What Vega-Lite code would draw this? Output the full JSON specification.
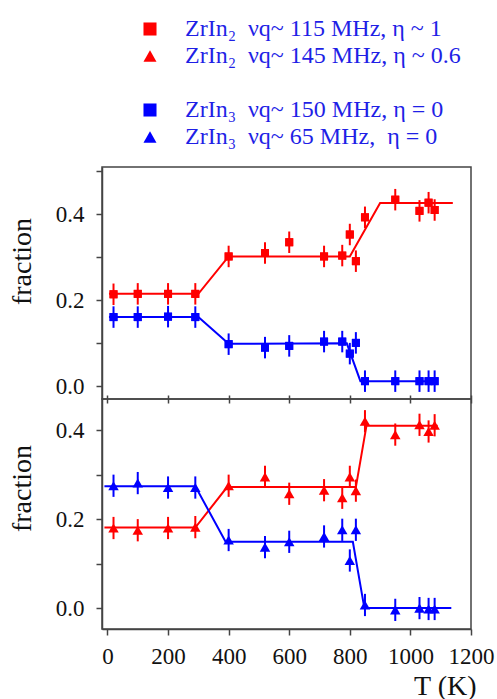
{
  "$schema": "https://vega.github.io/schema/vega-lite/v6.json",
  "background": "white",
  "padding": {"left": 7, "top": 17, "right": 5, "bottom": 2},
  "spacing": 0,
  "bounds": "flush",
  "config": {
    "font": "Liberation Serif",
    "view": {"stroke": "#444", "strokeWidth": 1.5},
    "axis": {"grid": false, "labelFont": "Liberation Serif", "titleFont": "Liberation Serif", "labelFontSize": 23, "titleFontSize": 28, "titleFontWeight": "normal", "labelColor": "#111", "titleColor": "#111", "domainColor": "#444", "tickColor": "#444", "domainWidth": 1.5, "tickWidth": 1.5, "labelOverlap": false, "labelFlush": false},
    "legend": {"labelFont": "Liberation Serif", "labelFontSize": 24, "labelColor": "#1f1fe6", "symbolSize": 170, "labelOffset": 23, "rowPadding": 3, "labelLimit": 400, "symbolStrokeWidth": 0}
  },
  "datasets": {
    "topPts": [
      {"series": "ZrIn₂\u00a0 νq~ 115 MHz, η ~ 1", "T": 20, "f": 0.214, "err": 0.025},
      {"series": "ZrIn₂\u00a0 νq~ 115 MHz, η ~ 1", "T": 100, "f": 0.215, "err": 0.025},
      {"series": "ZrIn₂\u00a0 νq~ 115 MHz, η ~ 1", "T": 200, "f": 0.215, "err": 0.025},
      {"series": "ZrIn₂\u00a0 νq~ 115 MHz, η ~ 1", "T": 290, "f": 0.215, "err": 0.025},
      {"series": "ZrIn₂\u00a0 νq~ 115 MHz, η ~ 1", "T": 400, "f": 0.302, "err": 0.025},
      {"series": "ZrIn₂\u00a0 νq~ 115 MHz, η ~ 1", "T": 520, "f": 0.310, "err": 0.025},
      {"series": "ZrIn₂\u00a0 νq~ 115 MHz, η ~ 1", "T": 600, "f": 0.335, "err": 0.025},
      {"series": "ZrIn₂\u00a0 νq~ 115 MHz, η ~ 1", "T": 715, "f": 0.302, "err": 0.025},
      {"series": "ZrIn₂\u00a0 νq~ 115 MHz, η ~ 1", "T": 775, "f": 0.304, "err": 0.025},
      {"series": "ZrIn₂\u00a0 νq~ 115 MHz, η ~ 1", "T": 800, "f": 0.353, "err": 0.025},
      {"series": "ZrIn₂\u00a0 νq~ 115 MHz, η ~ 1", "T": 820, "f": 0.291, "err": 0.025},
      {"series": "ZrIn₂\u00a0 νq~ 115 MHz, η ~ 1", "T": 850, "f": 0.393, "err": 0.025},
      {"series": "ZrIn₂\u00a0 νq~ 115 MHz, η ~ 1", "T": 950, "f": 0.434, "err": 0.025},
      {"series": "ZrIn₂\u00a0 νq~ 115 MHz, η ~ 1", "T": 1030, "f": 0.408, "err": 0.025},
      {"series": "ZrIn₂\u00a0 νq~ 115 MHz, η ~ 1", "T": 1060, "f": 0.427, "err": 0.025},
      {"series": "ZrIn₂\u00a0 νq~ 115 MHz, η ~ 1", "T": 1080, "f": 0.410, "err": 0.025},
      {"series": "ZrIn₃\u00a0 νq~ 150 MHz, η = 0", "T": 20, "f": 0.161, "err": 0.025},
      {"series": "ZrIn₃\u00a0 νq~ 150 MHz, η = 0", "T": 100, "f": 0.161, "err": 0.025},
      {"series": "ZrIn₃\u00a0 νq~ 150 MHz, η = 0", "T": 200, "f": 0.162, "err": 0.025},
      {"series": "ZrIn₃\u00a0 νq~ 150 MHz, η = 0", "T": 290, "f": 0.161, "err": 0.025},
      {"series": "ZrIn₃\u00a0 νq~ 150 MHz, η = 0", "T": 400, "f": 0.098, "err": 0.025},
      {"series": "ZrIn₃\u00a0 νq~ 150 MHz, η = 0", "T": 520, "f": 0.090, "err": 0.025},
      {"series": "ZrIn₃\u00a0 νq~ 150 MHz, η = 0", "T": 600, "f": 0.094, "err": 0.025},
      {"series": "ZrIn₃\u00a0 νq~ 150 MHz, η = 0", "T": 715, "f": 0.104, "err": 0.025},
      {"series": "ZrIn₃\u00a0 νq~ 150 MHz, η = 0", "T": 775, "f": 0.104, "err": 0.025},
      {"series": "ZrIn₃\u00a0 νq~ 150 MHz, η = 0", "T": 800, "f": 0.076, "err": 0.025},
      {"series": "ZrIn₃\u00a0 νq~ 150 MHz, η = 0", "T": 820, "f": 0.101, "err": 0.025},
      {"series": "ZrIn₃\u00a0 νq~ 150 MHz, η = 0", "T": 850, "f": 0.012, "err": 0.025},
      {"series": "ZrIn₃\u00a0 νq~ 150 MHz, η = 0", "T": 950, "f": 0.012, "err": 0.025},
      {"series": "ZrIn₃\u00a0 νq~ 150 MHz, η = 0", "T": 1030, "f": 0.012, "err": 0.025},
      {"series": "ZrIn₃\u00a0 νq~ 150 MHz, η = 0", "T": 1060, "f": 0.012, "err": 0.025},
      {"series": "ZrIn₃\u00a0 νq~ 150 MHz, η = 0", "T": 1080, "f": 0.012, "err": 0.025}
    ],
    "botPts": [
      {"series": "ZrIn₂\u00a0 νq~ 145 MHz, η ~ 0.6", "T": 20, "f": 0.180, "err": 0.025},
      {"series": "ZrIn₂\u00a0 νq~ 145 MHz, η ~ 0.6", "T": 100, "f": 0.175, "err": 0.025},
      {"series": "ZrIn₂\u00a0 νq~ 145 MHz, η ~ 0.6", "T": 200, "f": 0.180, "err": 0.025},
      {"series": "ZrIn₂\u00a0 νq~ 145 MHz, η ~ 0.6", "T": 290, "f": 0.182, "err": 0.025},
      {"series": "ZrIn₂\u00a0 νq~ 145 MHz, η ~ 0.6", "T": 400, "f": 0.275, "err": 0.025},
      {"series": "ZrIn₂\u00a0 νq~ 145 MHz, η ~ 0.6", "T": 520, "f": 0.295, "err": 0.025},
      {"series": "ZrIn₂\u00a0 νq~ 145 MHz, η ~ 0.6", "T": 600, "f": 0.257, "err": 0.025},
      {"series": "ZrIn₂\u00a0 νq~ 145 MHz, η ~ 0.6", "T": 715, "f": 0.265, "err": 0.025},
      {"series": "ZrIn₂\u00a0 νq~ 145 MHz, η ~ 0.6", "T": 775, "f": 0.248, "err": 0.025},
      {"series": "ZrIn₂\u00a0 νq~ 145 MHz, η ~ 0.6", "T": 800, "f": 0.295, "err": 0.025},
      {"series": "ZrIn₂\u00a0 νq~ 145 MHz, η ~ 0.6", "T": 820, "f": 0.264, "err": 0.025},
      {"series": "ZrIn₂\u00a0 νq~ 145 MHz, η ~ 0.6", "T": 850, "f": 0.420, "err": 0.025},
      {"series": "ZrIn₂\u00a0 νq~ 145 MHz, η ~ 0.6", "T": 950, "f": 0.390, "err": 0.025},
      {"series": "ZrIn₂\u00a0 νq~ 145 MHz, η ~ 0.6", "T": 1030, "f": 0.412, "err": 0.025},
      {"series": "ZrIn₂\u00a0 νq~ 145 MHz, η ~ 0.6", "T": 1060, "f": 0.397, "err": 0.025},
      {"series": "ZrIn₂\u00a0 νq~ 145 MHz, η ~ 0.6", "T": 1080, "f": 0.411, "err": 0.025},
      {"series": "ZrIn₃\u00a0 νq~ 65 MHz,\u00a0 η = 0", "T": 20, "f": 0.275, "err": 0.025},
      {"series": "ZrIn₃\u00a0 νq~ 65 MHz,\u00a0 η = 0", "T": 100, "f": 0.281, "err": 0.025},
      {"series": "ZrIn₃\u00a0 νq~ 65 MHz,\u00a0 η = 0", "T": 200, "f": 0.271, "err": 0.025},
      {"series": "ZrIn₃\u00a0 νq~ 65 MHz,\u00a0 η = 0", "T": 290, "f": 0.271, "err": 0.025},
      {"series": "ZrIn₃\u00a0 νq~ 65 MHz,\u00a0 η = 0", "T": 400, "f": 0.153, "err": 0.025},
      {"series": "ZrIn₃\u00a0 νq~ 65 MHz,\u00a0 η = 0", "T": 520, "f": 0.137, "err": 0.025},
      {"series": "ZrIn₃\u00a0 νq~ 65 MHz,\u00a0 η = 0", "T": 600, "f": 0.149, "err": 0.025},
      {"series": "ZrIn₃\u00a0 νq~ 65 MHz,\u00a0 η = 0", "T": 715, "f": 0.161, "err": 0.025},
      {"series": "ZrIn₃\u00a0 νq~ 65 MHz,\u00a0 η = 0", "T": 775, "f": 0.176, "err": 0.025},
      {"series": "ZrIn₃\u00a0 νq~ 65 MHz,\u00a0 η = 0", "T": 800, "f": 0.107, "err": 0.025},
      {"series": "ZrIn₃\u00a0 νq~ 65 MHz,\u00a0 η = 0", "T": 820, "f": 0.176, "err": 0.025},
      {"series": "ZrIn₃\u00a0 νq~ 65 MHz,\u00a0 η = 0", "T": 850, "f": 0.007, "err": 0.025},
      {"series": "ZrIn₃\u00a0 νq~ 65 MHz,\u00a0 η = 0", "T": 950, "f": -0.004, "err": 0.025},
      {"series": "ZrIn₃\u00a0 νq~ 65 MHz,\u00a0 η = 0", "T": 1030, "f": 0.000, "err": 0.025},
      {"series": "ZrIn₃\u00a0 νq~ 65 MHz,\u00a0 η = 0", "T": 1060, "f": -0.002, "err": 0.025},
      {"series": "ZrIn₃\u00a0 νq~ 65 MHz,\u00a0 η = 0", "T": 1080, "f": -0.002, "err": 0.025}
    ],
    "topFit": [
      {"series": "ZrIn₂\u00a0 νq~ 115 MHz, η ~ 1", "T": 5, "f": 0.215},
      {"series": "ZrIn₂\u00a0 νq~ 115 MHz, η ~ 1", "T": 300, "f": 0.215},
      {"series": "ZrIn₂\u00a0 νq~ 115 MHz, η ~ 1", "T": 400, "f": 0.302},
      {"series": "ZrIn₂\u00a0 νq~ 115 MHz, η ~ 1", "T": 800, "f": 0.302},
      {"series": "ZrIn₂\u00a0 νq~ 115 MHz, η ~ 1", "T": 900, "f": 0.426},
      {"series": "ZrIn₂\u00a0 νq~ 115 MHz, η ~ 1", "T": 1140, "f": 0.426},
      {"series": "ZrIn₃\u00a0 νq~ 150 MHz, η = 0", "T": 5, "f": 0.161},
      {"series": "ZrIn₃\u00a0 νq~ 150 MHz, η = 0", "T": 300, "f": 0.161},
      {"series": "ZrIn₃\u00a0 νq~ 150 MHz, η = 0", "T": 400, "f": 0.099},
      {"series": "ZrIn₃\u00a0 νq~ 150 MHz, η = 0", "T": 790, "f": 0.100},
      {"series": "ZrIn₃\u00a0 νq~ 150 MHz, η = 0", "T": 835, "f": 0.012},
      {"series": "ZrIn₃\u00a0 νq~ 150 MHz, η = 0", "T": 1085, "f": 0.012}
    ],
    "botFit": [
      {"series": "ZrIn₂\u00a0 νq~ 145 MHz, η ~ 0.6", "T": -10, "f": 0.181},
      {"series": "ZrIn₂\u00a0 νq~ 145 MHz, η ~ 0.6", "T": 290, "f": 0.181},
      {"series": "ZrIn₂\u00a0 νq~ 145 MHz, η ~ 0.6", "T": 395, "f": 0.272},
      {"series": "ZrIn₂\u00a0 νq~ 145 MHz, η ~ 0.6", "T": 820, "f": 0.272},
      {"series": "ZrIn₂\u00a0 νq~ 145 MHz, η ~ 0.6", "T": 855, "f": 0.410},
      {"series": "ZrIn₂\u00a0 νq~ 145 MHz, η ~ 0.6", "T": 1090, "f": 0.410},
      {"series": "ZrIn₃\u00a0 νq~ 65 MHz,\u00a0 η = 0", "T": -10, "f": 0.274},
      {"series": "ZrIn₃\u00a0 νq~ 65 MHz,\u00a0 η = 0", "T": 290, "f": 0.274},
      {"series": "ZrIn₃\u00a0 νq~ 65 MHz,\u00a0 η = 0", "T": 390, "f": 0.149},
      {"series": "ZrIn₃\u00a0 νq~ 65 MHz,\u00a0 η = 0", "T": 810, "f": 0.149},
      {"series": "ZrIn₃\u00a0 νq~ 65 MHz,\u00a0 η = 0", "T": 848, "f": 0.000},
      {"series": "ZrIn₃\u00a0 νq~ 65 MHz,\u00a0 η = 0", "T": 1135, "f": 0.000}
    ]
  },
  "vconcat": [
    {
      "width": 369,
      "height": 232,
      "layer": [
        {
          "data": {"name": "topPts"},
          "mark": {"type": "point", "filled": true, "opacity": 1, "size": 64},
          "encoding": {
            "x": {"field": "T", "type": "quantitative", "scale": {"domain": [-18, 1200], "nice": false, "zero": false}, "axis": {"values": [0,100,200,300,400,500,600,700,800,900,1000,1100,1200], "labels": false, "title": null, "tickSize": 8, "offset": -4, "domain": false}},
            "y": {"field": "f", "type": "quantitative", "title": "fraction", "scale": {"domain": [-0.0295, 0.51], "nice": false, "zero": false}, "axis": {"values": [0,0.1,0.2,0.3,0.4,0.5], "format": ".1f", "labelExpr": "round(datum.value*10) % 2 === 0 ? datum.label : ''", "tickSize": 6, "labelPadding": 12, "titleX": -66, "titleY": 94}},
            "color": {"field": "series", "type": "nominal", "scale": {"domain": ["ZrIn₂\u00a0 νq~ 115 MHz, η ~ 1", "ZrIn₂\u00a0 νq~ 145 MHz, η ~ 0.6", " ", "ZrIn₃\u00a0 νq~ 150 MHz, η = 0", "ZrIn₃\u00a0 νq~ 65 MHz,\u00a0 η = 0"], "range": ["#ff0000", "#ff0000", "#ffffff", "#0000ff", "#0000ff"]}, "legend": {"title": null, "orient": "none", "legendX": 36, "legendY": -150}},
            "shape": {"field": "series", "type": "nominal", "scale": {"domain": ["ZrIn₂\u00a0 νq~ 115 MHz, η ~ 1", "ZrIn₂\u00a0 νq~ 145 MHz, η ~ 0.6", " ", "ZrIn₃\u00a0 νq~ 150 MHz, η = 0", "ZrIn₃\u00a0 νq~ 65 MHz,\u00a0 η = 0"], "range": ["square", "triangle-up", "square", "square", "triangle-up"]}, "legend": {"title": null, "orient": "none", "legendX": 36, "legendY": -150}}
          }
        },
        {
          "data": {"name": "topFit"},
          "mark": {"type": "line", "strokeWidth": 2},
          "encoding": {
            "x": {"field": "T", "type": "quantitative"},
            "y": {"field": "f", "type": "quantitative", "title": "fraction"},
            "stroke": {"field": "series", "type": "nominal", "scale": {"domain": ["ZrIn₂\u00a0 νq~ 115 MHz, η ~ 1", "ZrIn₂\u00a0 νq~ 145 MHz, η ~ 0.6", "ZrIn₃\u00a0 νq~ 150 MHz, η = 0", "ZrIn₃\u00a0 νq~ 65 MHz,\u00a0 η = 0"], "range": ["#ff0000", "#ff0000", "#0000ff", "#0000ff"]}, "legend": null}
          }
        },
        {
          "data": {"name": "topPts"},
          "mark": {"type": "errorbar", "thickness": 2},
          "encoding": {
            "x": {"field": "T", "type": "quantitative"},
            "y": {"field": "f", "type": "quantitative", "title": "fraction"},
            "yError": {"field": "err"},
            "stroke": {"field": "series", "type": "nominal", "legend": null}
          }
        },
        {
          "data": {"name": "topPts"},
          "mark": {"type": "point", "filled": true, "opacity": 1, "size": 64},
          "encoding": {
            "x": {"field": "T", "type": "quantitative"},
            "y": {"field": "f", "type": "quantitative", "title": "fraction"},
            "color": {"field": "series", "type": "nominal", "legend": {"title": null, "orient": "none", "legendX": 36, "legendY": -150}},
            "shape": {"field": "series", "type": "nominal", "legend": {"title": null, "orient": "none", "legendX": 36, "legendY": -150}}
          }
        }
      ]
    },
    {
      "width": 369,
      "height": 230,
      "layer": [
        {
          "data": {"name": "botFit"},
          "mark": {"type": "line", "strokeWidth": 2},
          "encoding": {
            "x": {"field": "T", "type": "quantitative", "scale": {"domain": [-18, 1200], "nice": false, "zero": false}, "axis": {"values": [0,100,200,300,400,500,600,700,800,900,1000,1100,1200], "format": "d", "labelExpr": "datum.value % 200 === 0 ? datum.label : ''", "title": "T (K)", "tickSize": 6, "labelPadding": 10, "titleAlign": "right", "titleX": 374, "titleY": 65, "titleBaseline": "alphabetic"}},
            "y": {"field": "f", "type": "quantitative", "title": "fraction", "scale": {"domain": [-0.047, 0.47], "nice": false, "zero": false}, "axis": {"values": [0,0.1,0.2,0.3,0.4], "format": ".1f", "labelExpr": "round(datum.value*10) % 2 === 0 ? datum.label : ''", "tickSize": 6, "labelPadding": 12, "titleX": -66, "titleY": 89}},
            "stroke": {"field": "series", "type": "nominal", "legend": null}
          }
        },
        {
          "data": {"name": "botPts"},
          "mark": {"type": "errorbar", "thickness": 2},
          "encoding": {
            "x": {"field": "T", "type": "quantitative"},
            "y": {"field": "f", "type": "quantitative", "title": "fraction"},
            "yError": {"field": "err"},
            "stroke": {"field": "series", "type": "nominal", "legend": null}
          }
        },
        {
          "data": {"name": "botPts"},
          "mark": {"type": "point", "filled": true, "opacity": 1, "size": 110},
          "encoding": {
            "x": {"field": "T", "type": "quantitative"},
            "y": {"field": "f", "type": "quantitative", "title": "fraction"},
            "color": {"field": "series", "type": "nominal", "legend": {"title": null, "orient": "none", "legendX": 36, "legendY": -150}},
            "shape": {"field": "series", "type": "nominal", "legend": {"title": null, "orient": "none", "legendX": 36, "legendY": -150}}
          }
        }
      ]
    }
  ]
}
